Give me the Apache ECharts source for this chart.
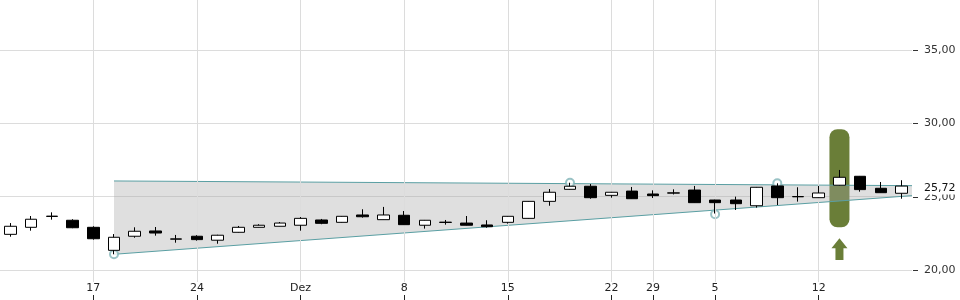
<!DOCTYPE html>
<html>
<head>
<meta charset="utf-8">
<script src="https://cdn.jsdelivr.net/npm/echarts@6/dist/echarts.min.js"></script>
<style>html,body{margin:0;padding:0;background:#fff}#c{width:960px;height:300px}</style>
</head>
<body>
<div id="c"></div>
<script>
// ---- data ----
var dates = ['2025-11-11','2025-11-12','2025-11-13','2025-11-14',
  '2025-11-17','2025-11-18','2025-11-19','2025-11-20','2025-11-21',
  '2025-11-24','2025-11-25','2025-11-26','2025-11-27','2025-11-28',
  '2025-12-01','2025-12-02','2025-12-03','2025-12-04','2025-12-05',
  '2025-12-08','2025-12-09','2025-12-10','2025-12-11','2025-12-12',
  '2025-12-15','2025-12-16','2025-12-17','2025-12-18','2025-12-19',
  '2025-12-22','2025-12-23','2025-12-29','2025-12-30','2026-01-02',
  '2026-01-05','2026-01-06','2026-01-07','2026-01-08','2026-01-09',
  '2026-01-12','2026-01-13','2026-01-14','2026-01-15','2026-01-16'];
// [open, close, low, high]
var ohlc = [
  [22.43,22.98,22.27,23.20],[22.91,23.46,22.68,23.68],[23.65,23.67,23.43,23.93],[23.39,22.88,22.85,23.46],
  [22.91,22.13,22.07,22.98],[21.34,22.23,21.07,22.45],[22.30,22.64,22.20,22.91],[22.66,22.52,22.34,22.93],[22.10,22.12,21.86,22.39],
  [22.30,22.07,22.00,22.37],[22.03,22.37,21.79,22.40],[22.57,22.91,22.55,23.00],[22.91,23.05,22.90,23.12],[22.98,23.20,22.97,23.27],
  [23.05,23.52,22.68,23.61],[23.41,23.18,23.12,23.48],[23.25,23.66,23.23,23.68],[23.75,23.63,23.57,24.14],[23.43,23.75,23.42,24.30],
  [23.73,23.09,23.07,24.02],[23.05,23.39,22.82,23.41],[23.24,23.26,23.09,23.41],[23.20,23.05,23.03,23.68],[23.07,22.95,22.88,23.39],
  [23.25,23.66,23.16,23.68],[23.52,24.68,23.50,24.70],[24.68,25.30,24.38,25.52],[25.50,25.71,25.48,25.95],[25.71,24.93,24.86,25.86],
  [25.09,25.30,24.93,25.32],[25.38,24.86,24.84,25.66],[25.18,25.07,24.91,25.43],[25.24,25.26,25.15,25.50],[25.45,24.59,24.57,25.73],
  [24.77,24.59,23.85,24.79],[24.77,24.52,24.09,25.00],[24.38,25.64,24.25,25.66],[25.73,24.93,24.43,25.91],[24.99,25.01,24.66,25.64],
  [24.93,25.25,24.91,25.73],[25.78,26.32,25.76,26.82],[26.39,25.48,25.34,26.41],[25.57,25.27,25.25,26.00],[25.23,25.72,24.86,26.12]
];
var tickIndex = [4, 9, 14, 19, 24, 29, 31, 34, 39];
var tickText = ['17', '24', 'Dez', '8', '15', '22', '29', '5', '12'];
var yTicks = [20, 25, 30, 35];
var yMin = 19.18, yMax = 38.41;
var lastPrice = 25.72;
// trend channel: [index, value]
var upperLine = [[5, 26.07], [43.5, 25.75]];
var lowerLine = [[5, 21.07], [43.5, 25.07]];
var pivots = [[5, 21.07], [27, 25.95], [34, 23.80], [37, 25.91]];
// signal highlight
var signalIndex = 40;
var signalRange = [22.91, 29.60];
var arrowRange = [20.68, 22.16];

var chart = echarts.init(document.getElementById('c'), null, {renderer: 'canvas'});
var FONT = 'DejaVu Sans';
var gridColor = '#dcdcdc';
var teal = '#5a9fa3';
var green = '#6a7e38';
var xMax = 43.5;

var option = {
  animation: false,
  backgroundColor: '#fff',
  grid: {left: 0, right: 48, top: 0, bottom: 18, containLabel: false},
  xAxis: [
    {
      type: 'category', data: dates, boundaryGap: true,
      axisLine: {show: false}, axisTick: {show: false}, splitLine: {show: false},
      axisLabel: {
        interval: function (i) { return tickIndex.indexOf(i) >= 0; },
        formatter: function (v, i) { var k = tickIndex.indexOf(i); return k >= 0 ? tickText[k] : ''; },
        margin: 1, fontFamily: FONT, fontSize: 11, color: '#222'
      }
    },
    {
      type: 'value', min: -0.5, max: xMax, show: false
    },
    {
      type: 'category', data: dates, boundaryGap: true, position: 'bottom', offset: 18,
      axisLine: {show: false}, axisLabel: {show: false}, splitLine: {show: false},
      axisTick: {
        show: true, inside: true, length: 5, alignWithLabel: true,
        interval: function (i) { return tickIndex.indexOf(i) >= 0; },
        lineStyle: {color: '#222', width: 1}
      }
    }
  ],
  yAxis: {
    type: 'value', position: 'right', min: yMin, max: yMax, scale: true,
    axisLine: {show: false},
    axisTick: {show: false, customValues: yTicks},
    axisLabel: {
      customValues: yTicks, margin: 12, fontFamily: FONT, fontSize: 11, color: '#333',
      formatter: function (v) { return v.toFixed(2).replace('.', ','); }
    },
    splitLine: {show: true, lineStyle: {color: gridColor, width: 1}}
  },
  series: [
    {
      name: 'vgrid', type: 'line', xAxisIndex: 1, data: [], z: 0, silent: true,
      markLine: {
        silent: true, symbol: ['none', 'none'], animation: false,
        label: {show: false},
        lineStyle: {color: gridColor, type: 'solid', width: 1},
        data: tickIndex.map(function (i) { return {xAxis: i}; })
      }
    },
    {
      name: 'yticks', type: 'custom', xAxisIndex: 1, z: 0, silent: true, clip: false,
      data: yTicks.map(function (v) { return [xMax, v]; }),
      renderItem: function (params, api) {
        var p = api.coord([api.value(0), api.value(1)]);
        var y = Math.round(p[1]) + 0.5;
        return {type: 'line', shape: {x1: p[0] + 1, y1: y, x2: p[0] + 6, y2: y},
                style: {stroke: '#333', lineWidth: 1}};
      }
    },
    {
      name: 'signal', type: 'custom', xAxisIndex: 1, z: 1, silent: true,
      data: [[signalIndex, signalRange[0], signalRange[1], arrowRange[0], arrowRange[1]]],
      renderItem: function (params, api) {
        var top = api.coord([api.value(0), api.value(2)]);
        var bot = api.coord([api.value(0), api.value(1)]);
        var aTip = api.coord([api.value(0), api.value(4)]);
        var aBase = api.coord([api.value(0), api.value(3)]);
        var w = 20, x = top[0];
        var headH = 10;
        return {
          type: 'group',
          children: [
            {type: 'rect', shape: {x: x - w / 2, y: top[1], width: w, height: bot[1] - top[1], r: 8},
             style: {fill: green}},
            {type: 'polygon', shape: {points: [
              [x, aTip[1]], [x + 8, aTip[1] + headH], [x + 4, aTip[1] + headH],
              [x + 4, aBase[1]], [x - 4, aBase[1]], [x - 4, aTip[1] + headH], [x - 8, aTip[1] + headH]
            ]}, style: {fill: green}}
          ]
        };
      }
    },
    {
      name: 'channel', type: 'custom', xAxisIndex: 1, z: 2, silent: true,
      data: [[upperLine[0][0], upperLine[0][1], upperLine[1][0], upperLine[1][1],
              lowerLine[0][0], lowerLine[0][1], lowerLine[1][0], lowerLine[1][1]]],
      renderItem: function (params, api) {
        var u0 = api.coord([api.value(0), api.value(1)]);
        var u1 = api.coord([api.value(2), api.value(3)]);
        var l0 = api.coord([api.value(4), api.value(5)]);
        var l1 = api.coord([api.value(6), api.value(7)]);
        return {
          type: 'group',
          children: [
            {type: 'polygon', shape: {points: [u0, u1, l1, l0]},
             style: {fill: 'rgba(165,165,165,0.36)'}},
            {type: 'line', shape: {x1: u0[0], y1: u0[1], x2: u1[0], y2: u1[1]},
             style: {stroke: teal, lineWidth: 1}},
            {type: 'line', shape: {x1: l0[0], y1: l0[1], x2: l1[0], y2: l1[1]},
             style: {stroke: teal, lineWidth: 1}}
          ]
        };
      }
    },
    {
      name: 'pivots', type: 'scatter', xAxisIndex: 1, z: 3, silent: true,
      data: pivots, symbol: 'emptyCircle', symbolSize: 8,
      itemStyle: {color: '#7fb3b6', borderColor: '#7fb3b6', borderWidth: 1.2}
    },
    {
      name: 'price', type: 'candlestick', xAxisIndex: 0, z: 5,
      data: ohlc, barWidth: 12,
      itemStyle: {color: '#ffffff', color0: '#000000', borderColor: '#000000', borderColor0: '#000000', borderWidth: 1}
    },
    {
      name: 'last', type: 'custom', xAxisIndex: 1, z: 6, silent: true, clip: false,
      data: [[xMax, lastPrice]],
      renderItem: function (params, api) {
        var p = api.coord([api.value(0), api.value(1)]);
        return {type: 'text', x: p[0] + 10, y: p[1] + 2.5,
                style: {text: api.value(1).toFixed(2).replace('.', ','), fill: '#111',
                        font: '11px "DejaVu Sans"', verticalAlign: 'middle', align: 'left',
                        backgroundColor: '#fff', padding: [1, 3, 0, 2]}};
      }
    }
  ]
};
chart.setOption(option);
</script>
</body>
</html>
